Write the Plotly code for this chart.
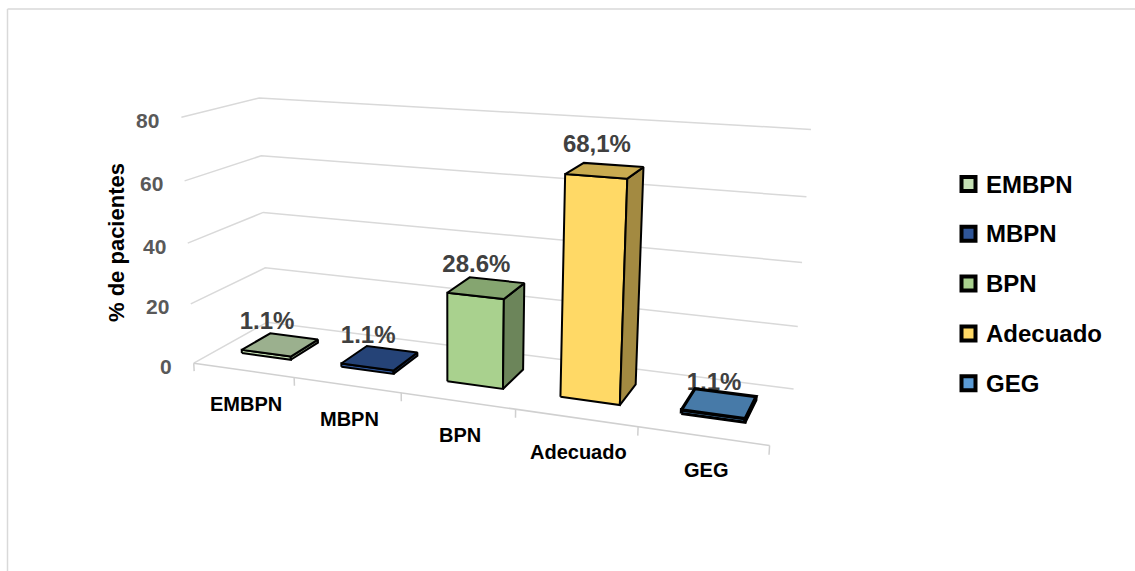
import numpy as np
import plotly.graph_objects as go

# ---- data -------------------------------------------------------------
categories = ["EMBPN", "MBPN", "BPN", "Adecuado", "GEG"]
values = [1.1, 1.1, 28.6, 68.1, 1.1]
value_labels = ["1.1%", "1.1%", "28.6%", "68,1%", "1,1%"]
bar_colors = ["#C5E0B4", "#2F5597", "#A9D18E", "#FFD966", "#5B9BD5"]
y_ticks = [0, 20, 40, 60, 80]
y_title = "% de pacientes"

# ---- styles -----------------------------------------------------------
W, H = 1135, 571
FONT = "Liberation Sans, Arial, sans-serif"
OUTLINE_WIDTHS = [2, 2, 2, 2, 3.2]   # bar edge widths, per category

# ---- 3-D scene (world units: one category slot = 1) -------------------
VALUE_MAX = 80
WALL_HEIGHT = 2.183                 # world height of the value axis
VALUE_SCALE = WALL_HEIGHT / VALUE_MAX
FLOOR_LEFT, FLOOR_RIGHT = -0.5, len(categories) - 0.5
FLOOR_DEPTH = 1.30
BAR_HALF_WIDTH = 0.25
BAR_FRONT, BAR_BACK = 0.40, 0.92
TICK_LEN = 2.7                      # tick mark length, in value units

# perspective camera (x right, y into the scene, z up)
CAM_POS = np.array([5.70, -9.37, 3.83])
YAW = np.radians(21.8)
PITCH = np.radians(14.06)
FOCAL = 1316.0
CX, CY = 452.0, 245.0

right = np.array([np.cos(YAW), np.sin(YAW), 0.0])
forward = np.array([-np.sin(YAW) * np.cos(PITCH),
                    np.cos(YAW) * np.cos(PITCH),
                    -np.sin(PITCH)])
down = np.cross(forward, right)


def project(x, y, v):
    """Map (category position, depth, value) to screen pixels."""
    p = np.array([x, y, v * VALUE_SCALE]) - CAM_POS
    d = p @ forward
    return CX + FOCAL * (p @ right) / d, CY + FOCAL * (p @ down) / d


def polyline(points):
    xs, ys = [], []
    for pts in points:
        for (x, y, v) in pts:
            u, w = project(x, y, v)
            xs.append(u)
            ys.append(w)
        xs.append(None)
        ys.append(None)
    return xs, ys


def shade(hex_color, k):
    h = hex_color.lstrip("#")
    r, g, b = (int(h[i:i + 2], 16) for i in (0, 2, 4))
    return "#{:02X}{:02X}{:02X}".format(int(r * k), int(g * k), int(b * k))


fig = go.Figure()

# ---- walls: gridlines on the side wall and the back wall --------------
grid = []
for t in y_ticks:
    grid.append([(FLOOR_LEFT, 0, t), (FLOOR_LEFT, FLOOR_DEPTH, t),
                 (FLOOR_RIGHT, FLOOR_DEPTH, t)])
gx, gy = polyline(grid)
fig.add_trace(go.Scatter(x=gx, y=gy, mode="lines",
                         line=dict(color="#D9D9D9", width=1.5),
                         hoverinfo="skip"))

# ---- category axis with tick marks ------------------------------------
axis = [[(FLOOR_LEFT, 0, 0), (FLOOR_RIGHT, 0, 0)]]
for k in range(len(categories) + 1):
    xk = FLOOR_LEFT + k
    axis.append([(xk, 0, 0), (xk, 0, -TICK_LEN)])
ax_, ay_ = polyline(axis)
fig.add_trace(go.Scatter(x=ax_, y=ay_, mode="lines",
                         line=dict(color="#D0D0D0", width=1.5),
                         hoverinfo="skip"))

# ---- value labels (drawn under the bars) ------------------------------
lx, ly = [], []
for i, v in enumerate(values):
    u, w = project(i, BAR_FRONT, v)
    lx.append(u + 1)
    ly.append(w - 30)
fig.add_trace(go.Scatter(x=lx, y=ly, mode="text", text=value_labels,
                         textposition="middle center",
                         textfont=dict(family=FONT, size=24, color="#404040",
                                       weight="bold"),
                         hoverinfo="skip"))

# ---- bars -------------------------------------------------------------
for i, (v, c) in enumerate(zip(values, bar_colors)):
    x1, x2 = i - BAR_HALF_WIDTH, i + BAR_HALF_WIDTH
    y1, y2 = BAR_FRONT, BAR_BACK
    faces = [
        ([(x1, y1, 0), (x2, y1, 0), (x2, y1, v), (x1, y1, v), (x1, y1, 0)], c),
        ([(x2, y1, 0), (x2, y2, 0), (x2, y2, v), (x2, y1, v), (x2, y1, 0)],
         shade(c, 0.64)),
        ([(x1, y1, v), (x2, y1, v), (x2, y2, v), (x1, y2, v), (x1, y1, v)],
         shade(c, 0.79)),
    ]
    for pts, fc in faces:
        fx, fy = polyline([pts])
        fig.add_trace(go.Scatter(x=fx[:-1], y=fy[:-1], mode="lines",
                                 fill="toself", fillcolor=fc,
                                 line=dict(color="black",
                                           width=OUTLINE_WIDTHS[i]),
                                 hoverinfo="skip"))

annotations = []

# ---- value-axis tick labels -------------------------------------------
for t in y_ticks:
    u, w = project(FLOOR_LEFT, 0, t)
    annotations.append(dict(x=u - 20, y=w + 3, text=str(t), showarrow=False,
                            xanchor="right", yanchor="middle",
                            font=dict(family=FONT, size=21, color="#595959",
                                      weight="bold")))

# ---- category labels --------------------------------------------------
for i, name in enumerate(categories):
    u, w = project(i, 0, 0)
    annotations.append(dict(x=u + 3, y=w + 34, text=name, showarrow=False,
                            xanchor="center", yanchor="middle",
                            font=dict(family=FONT, size=20, color="black",
                                      weight="bold")))

# ---- value-axis title -------------------------------------------------
annotations.append(dict(x=116, y=243, text=y_title, showarrow=False,
                        textangle=-90, xanchor="center", yanchor="middle",
                        font=dict(family=FONT, size=22, color="black",
                                  weight="bold")))

# ---- legend -----------------------------------------------------------
LEG_X, LEG_TOP, LEG_STEP = 968.5, 184, 49.8
leg_y = [LEG_TOP + k * LEG_STEP for k in range(len(categories))]
fig.add_trace(go.Scatter(x=[LEG_X] * len(categories), y=leg_y, mode="markers",
                         marker=dict(symbol="square", size=14,
                                     color=bar_colors,
                                     line=dict(color="black", width=4)),
                         hoverinfo="skip"))
for name, yy in zip(categories, leg_y):
    annotations.append(dict(x=LEG_X + 15, y=yy, text=name, showarrow=False,
                            xanchor="left", yanchor="middle",
                            font=dict(family=FONT, size=24, color="black",
                                      weight="bold")))

# ---- chart border -----------------------------------------------------
shapes = [
    dict(type="line", x0=7.5, y0=9, x1=W + 5, y1=9,
         line=dict(color="#D9D9D9", width=1.5)),
    dict(type="line", x0=7.5, y0=9, x1=7.5, y1=H + 5,
         line=dict(color="#D9D9D9", width=1.5)),
]

fig.update_layout(
    width=W, height=H,
    margin=dict(l=0, r=0, t=0, b=0),
    paper_bgcolor="white", plot_bgcolor="white",
    showlegend=False,
    xaxis=dict(range=[0, W], visible=False, fixedrange=True),
    yaxis=dict(range=[H, 0], visible=False, fixedrange=True),
    annotations=annotations,
    shapes=shapes,
)

fig.write_html("out.html")
